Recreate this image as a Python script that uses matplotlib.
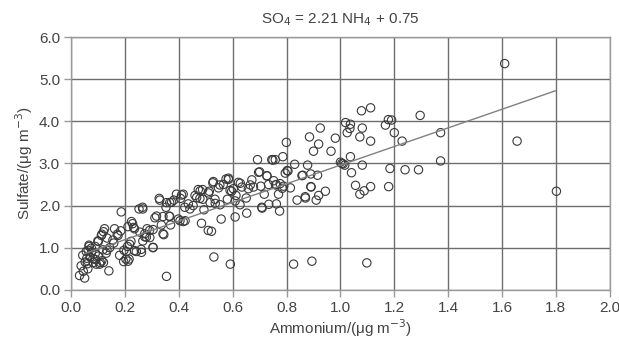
import numpy as np
import matplotlib
matplotlib.use("Agg")
import matplotlib.pyplot as plt

plt.rcParams['font.family'] = ['Liberation Sans', 'DejaVu Sans']

# ammonium (x) and sulfate (y) pairs
ammonium = [
    0.031, 0.05, 0.037, 0.043, 0.056, 0.066, 0.075, 0.081, 0.062, 0.093,
    0.106, 0.099, 0.112, 0.124, 0.118, 0.130, 0.14, 0.143, 0.155, 0.161,
    0.174, 0.186, 0.180, 0.195, 0.205, 0.211, 0.217, 0.211, 0.224, 0.232,
    0.242, 0.255, 0.252, 0.265, 0.261, 0.273, 0.282, 0.292, 0.304, 0.311,
    0.317, 0.327, 0.335, 0.344, 0.354, 0.352, 0.364, 0.369, 0.373, 0.381,
    0.391, 0.398, 0.406, 0.416, 0.416, 0.422, 0.435, 0.441, 0.453, 0.46,
    0.472, 0.478, 0.484, 0.488, 0.493, 0.509, 0.513, 0.528, 0.534, 0.53,
    0.547, 0.553, 0.557, 0.565, 0.575, 0.584, 0.58, 0.591, 0.596, 0.602,
    0.609, 0.612, 0.621, 0.627, 0.634, 0.65, 0.652, 0.658, 0.671, 0.677,
    0.692, 0.70, 0.704, 0.708, 0.717, 0.727, 0.733, 0.745, 0.752, 0.758,
    0.762, 0.762, 0.77, 0.774, 0.776, 0.786, 0.789, 0.795, 0.799, 0.805,
    0.814, 0.826, 0.83, 0.839,
    # right part
    1.61, 1.078, 1.112, 1.296, 1.019, 1.037, 1.035, 1.025, 1.081, 1.072,
    1.112, 1.167, 1.178, 1.19, 1.20, 1.229, 1.372, 1.372, 1.656, 1.802,
    0.925, 0.885, 0.919, 0.90, 0.981, 0.965, 1.037, 1.0, 1.016, 1.081,
    1.041, 1.184, 1.24, 1.29, 0.878, 0.86, 0.89, 0.915, 0.89, 0.869,
    0.91, 0.919, 0.944, 1.056, 1.072, 1.088, 1.112, 1.179, 0.894, 1.098,
    1.005, 1.01, 0.857, 0.870, 0.891,
    # dense low end
    0.063, 0.07, 0.082, 0.089, 0.108, 0.114, 0.12, 0.101, 0.114, 0.12,
    0.133, 0.158, 0.171, 0.184, 0.196, 0.203, 0.215, 0.209, 0.222, 0.228,
    0.067, 0.076, 0.089, 0.133, 0.10, 0.09, 0.06, 0.058, 0.045, 0.052,
    # middle extras
    0.552, 0.584, 0.59, 0.628, 0.665, 0.696, 0.727, 0.759, 0.784, 0.802,
    0.609, 0.734, 0.709, 0.749, 0.521, 0.526, 0.51, 0.479, 0.466, 0.489,
    0.516, 0.535, 0.41, 0.366, 0.354, 0.329, 0.266, 0.341, 0.366, 0.404,
    0.423, 0.291, 0.304, 0.273, 0.341, 0.235, 0.266, 0.279, 0.26, 0.304,
    0.235,
]
sulfate = [
    0.34, 0.28, 0.57, 0.82, 0.91, 1.06, 0.99, 0.74, 0.50, 0.61,
    0.61, 1.16, 1.29, 1.45, 0.95, 0.87, 0.45, 1.0, 1.18, 1.45,
    1.29, 1.85, 0.82, 0.67, 0.91, 0.68, 1.08, 1.50, 1.62, 1.48,
    0.91, 1.37, 1.92, 1.96, 0.89, 1.26, 1.45, 1.24, 1.01, 1.71,
    1.75, 2.17, 1.54, 1.31, 0.32, 1.96, 1.75, 1.54, 2.08, 2.13,
    2.27, 1.68, 2.17, 2.27, 1.62, 1.96, 2.04, 1.92, 2.0, 2.24,
    2.38, 2.17, 1.58, 2.38, 1.90, 1.41, 2.34, 2.57, 2.15, 0.78,
    2.42, 2.02, 1.68, 2.50, 2.63, 2.65, 2.15, 0.61, 2.34, 2.40,
    1.73, 2.24, 2.55, 2.02, 2.44, 2.18, 1.82, 2.40, 2.61, 2.44,
    3.09, 2.80, 2.46, 1.96, 2.27, 2.71, 2.50, 3.09, 2.59, 3.09,
    2.50, 2.04, 2.27, 1.87, 2.52, 3.16, 2.46, 2.77, 3.50, 2.82,
    2.42, 0.61, 2.98, 2.13,
    # right part
    5.37, 4.25, 4.32, 4.14, 3.97, 3.93, 3.83, 3.73, 3.84, 3.63,
    3.53, 3.91, 4.04, 4.03, 3.73, 3.53, 3.73, 3.06, 3.53, 2.34,
    3.84, 3.63, 3.46, 3.29, 3.60, 3.29, 3.16, 3.03, 2.96, 2.96,
    2.78, 2.88, 2.85, 2.85, 2.96, 2.72, 2.75, 2.72, 2.45, 2.21,
    2.13, 2.24, 2.34, 2.48, 2.27, 2.35, 2.45, 2.45, 0.68, 0.64,
    3.0, 2.99, 2.71, 2.18, 2.44,
    # dense low end
    0.94, 0.78, 0.65, 0.86, 0.65, 0.69, 0.65, 1.15, 1.32, 1.38,
    1.23, 1.11, 1.32, 1.40, 0.94, 0.73, 0.73, 1.03, 1.15, 1.57,
    1.03, 0.90, 1.03, 0.94, 0.80, 0.72, 0.62, 0.75, 0.44, 0.66,
    # middle extras
    2.49, 2.62, 2.36, 2.53, 2.49, 2.79, 2.70, 2.49, 2.41, 2.83,
    2.11, 2.03, 1.94, 3.08, 1.39, 2.54, 2.30, 2.35, 2.19, 2.15,
    2.07, 2.05, 2.25, 2.07, 2.07, 2.13, 1.92, 1.74, 1.74, 1.64,
    1.64, 1.41, 1.43, 1.33, 1.33, 1.45, 1.16, 1.25, 0.96, 1.00,
    0.93,
]

# regression line from the title
slope = 2.21
intercept = 0.75
fit_x = [0.05, 1.8]

xticks = [0.0, 0.2, 0.4, 0.6, 0.8, 1.0, 1.2, 1.4, 1.6, 1.8, 2.0]
yticks = [0.0, 1.0, 2.0, 3.0, 4.0, 5.0, 6.0]

fig = plt.figure(figsize=(6.19, 3.43), dpi=100)
ax = fig.add_axes([0.115, 0.155, 0.870, 0.737])

txt = '#444444'
grid_c = '#6e6e6e'

ax.scatter(ammonium, sulfate, s=36, facecolors='none', edgecolors='#3a3a3a',
           linewidths=0.8, zorder=3)
fx = np.array(fit_x)
ax.plot(fx, slope * fx + intercept, color='#808080', lw=1.0, zorder=4)

ax.set_xlim(0, 2.0)
ax.set_ylim(0, 6.0)
ax.set_xticks(xticks)
ax.set_yticks(yticks)
ax.set_xticklabels(['%.1f' % v for v in xticks])
ax.set_yticklabels(['%.1f' % v for v in yticks])
ax.grid(True, color=grid_c, lw=1.0, zorder=0)
ax.set_axisbelow(True)
for s in ax.spines.values():
    s.set_color('#9a9a9a')
    s.set_linewidth(1.0)
ax.tick_params(axis='both', colors='#9a9a9a', labelcolor=txt, labelsize=11,
               length=5, direction='out', width=1.0, pad=3)

ax.set_xlabel('Ammonium/(μg m$^{-3}$)', fontsize=11, color=txt, labelpad=2)
ax.set_ylabel('Sulfate/(μg m$^{-3}$)', fontsize=11, color=txt, labelpad=3)
ax.set_title('SO$_4$ = 2.21 NH$_4$ + 0.75', fontsize=11, color=txt, pad=10)

fig.savefig('out.png', dpi=100)
